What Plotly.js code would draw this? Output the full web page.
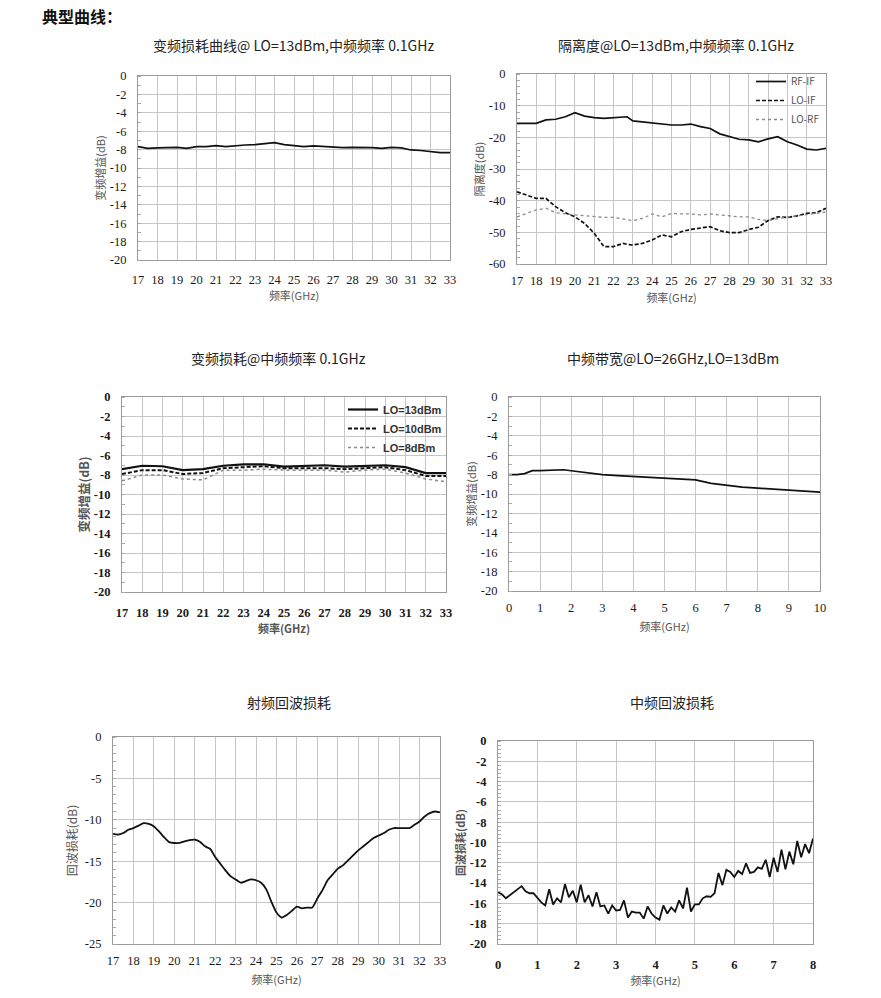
<!DOCTYPE html>
<html>
<head>
<meta charset="utf-8">
<script src="https://cdn.plot.ly/plotly-3.0.1.min.js"></script>
<style>html,body{margin:0;padding:0;background:#fff;}#chart{width:881px;height:998px;}</style>
</head>
<body>
<div id="chart"></div>
<script>
// ---------- DATA ----------
// Chart 1: 变频损耗曲线 @ LO=13dBm
const c1Freq = [17,17.5,18,18.5,19,19.5,20,20.5,21,21.5,22,22.5,23,23.5,24,24.5,25,25.5,26,26.5,27,27.5,28,28.5,29,29.5,30,30.5,31,31.5,32,32.5,33];
const c1Gain = [-7.67,-7.86,-7.82,-7.78,-7.75,-7.86,-7.67,-7.67,-7.57,-7.67,-7.57,-7.5,-7.46,-7.38,-7.24,-7.46,-7.6,-7.67,-7.6,-7.67,-7.67,-7.78,-7.75,-7.75,-7.78,-7.86,-7.75,-7.82,-8.04,-8.1,-8.2,-8.33,-8.33];

// Chart 2: 隔离度
const c2Freq = [17,17.5,18,18.5,19,19.5,20,20.5,21,21.5,22,22.5,22.7,23,23.5,24,24.5,25,25.5,26,26.5,27,27.5,28,28.5,29,29.5,30,30.5,31,31.5,32,32.5,33];
const c2RFIF = [-15.6,-15.6,-15.6,-14.5,-14.3,-13.5,-12.2,-13.3,-13.8,-14.0,-13.8,-13.7,-13.5,-14.8,-15.1,-15.4,-15.8,-16.1,-16.1,-15.8,-16.6,-17.2,-18.9,-19.8,-20.6,-20.8,-21.4,-20.5,-19.8,-21.4,-22.4,-23.7,-24.0,-23.5];
const c2LOIF = [-37.2,-38.2,-39.3,-39.3,-41.9,-43.8,-45.1,-47.2,-50.3,-54.5,-54.5,-53.5,-53.8,-54.0,-53.5,-52.4,-50.8,-51.4,-49.8,-49.1,-48.7,-48.2,-49.5,-50.1,-50.1,-49.1,-48.4,-46.3,-45.1,-45.3,-44.8,-44.0,-43.8,-42.4];
const c2LORF = [-45.1,-44.0,-42.9,-42.4,-43.8,-44.2,-44.5,-44.8,-45.1,-45.3,-45.3,-45.9,-46.0,-46.3,-45.6,-44.2,-45.1,-44.0,-44.2,-44.2,-44.5,-44.2,-44.5,-44.8,-45.1,-45.1,-45.9,-46.3,-45.6,-45.1,-44.8,-44.5,-44.0,-43.5];

// Chart 3: 变频损耗 @ 中频频率 0.1GHz, three LO powers
const c3Freq = [17,18,19,20,21,22,23,24,25,26,27,28,29,30,31,32,33];
const c3LO13 = [-7.4,-7.05,-7.1,-7.5,-7.4,-7.05,-6.9,-6.9,-7.15,-7.1,-7.0,-7.15,-7.1,-7.0,-7.2,-7.8,-7.8];
const c3LO10 = [-7.9,-7.5,-7.5,-7.9,-7.8,-7.3,-7.2,-7.1,-7.3,-7.3,-7.3,-7.4,-7.3,-7.2,-7.5,-8.1,-8.1];
const c3LO8  = [-8.6,-8.0,-8.0,-8.4,-8.5,-7.5,-7.5,-7.4,-7.5,-7.5,-7.5,-7.7,-7.5,-7.4,-7.8,-8.4,-8.7];

// Chart 4: 中频带宽 @ LO=26GHz
const c4Freq = [0,0.25,0.5,0.75,1,1.25,1.5,1.75,2,2.5,3,3.5,4,4.5,5,5.5,6,6.5,7,7.5,8,8.5,9,9.5,10];
const c4Gain = [-8.0,-8.0,-7.9,-7.6,-7.6,-7.55,-7.5,-7.5,-7.6,-7.8,-8.0,-8.1,-8.2,-8.3,-8.4,-8.45,-8.55,-8.9,-9.1,-9.3,-9.4,-9.5,-9.6,-9.75,-9.8];

// Chart 5: 射频回波损耗
const c5Freq = [17,17.25,17.5,17.75,18,18.25,18.5,18.75,19,19.25,19.5,19.75,20,20.25,20.5,20.75,21,21.25,21.5,21.75,22,22.25,22.5,22.75,23,23.25,23.5,23.75,24,24.25,24.5,24.75,25,25.25,25.5,25.75,26,26.25,26.5,26.75,27,27.25,27.5,27.75,28,28.25,28.5,28.75,29,29.25,29.5,29.75,30,30.25,30.5,30.75,31,31.25,31.5,31.75,32,32.25,32.5,32.75,33];
const c5RL = [-11.7,-11.8,-11.6,-11.2,-11.0,-10.7,-10.4,-10.5,-10.8,-11.4,-12.1,-12.7,-12.8,-12.8,-12.6,-12.45,-12.4,-12.65,-13.2,-13.5,-14.5,-15.3,-16.1,-16.8,-17.2,-17.6,-17.4,-17.2,-17.3,-17.6,-18.4,-19.9,-21.2,-21.8,-21.5,-21.0,-20.5,-20.7,-20.6,-20.6,-19.5,-18.5,-17.3,-16.6,-15.9,-15.5,-14.9,-14.3,-13.7,-13.2,-12.7,-12.2,-11.9,-11.6,-11.2,-11.0,-11.0,-11.0,-11.0,-10.6,-10.2,-9.6,-9.2,-9.0,-9.1];

// Chart 6: 中频回波损耗
const c6Freq = [0,0.1,0.2,0.3,0.4,0.5,0.6,0.7,0.8,0.9,1.0,1.1,1.2,1.3,1.4,1.5,1.6,1.7,1.8,1.9,2.0,2.1,2.2,2.3,2.4,2.5,2.6,2.7,2.8,2.9,3.0,3.1,3.2,3.3,3.4,3.5,3.6,3.7,3.8,3.9,4.0,4.1,4.2,4.3,4.4,4.5,4.6,4.7,4.8,4.9,5.0,5.1,5.2,5.3,5.4,5.5,5.6,5.7,5.8,5.9,6.0,6.1,6.2,6.3,6.4,6.5,6.6,6.7,6.8,6.9,7.0,7.1,7.2,7.3,7.4,7.5,7.6,7.7,7.8,7.9,8.0];
const c6RL = [-14.9,-15.1,-15.5,-15.2,-14.9,-14.6,-14.3,-14.8,-15.0,-15.0,-15.5,-15.9,-16.2,-14.6,-16.1,-15.5,-15.9,-14.1,-15.4,-14.75,-15.9,-14.15,-15.9,-15.2,-16.3,-14.9,-16.3,-16.2,-17.0,-16.2,-16.7,-16.65,-15.7,-17.4,-16.8,-16.9,-16.9,-17.5,-16.3,-17.0,-17.4,-17.6,-16.2,-17.0,-16.4,-16.8,-15.7,-16.5,-14.45,-16.8,-16.1,-16.1,-15.5,-15.3,-15.35,-15.0,-13.0,-14.2,-12.7,-12.9,-13.4,-12.8,-13.1,-12.05,-13.0,-12.9,-12.45,-12.6,-11.7,-13.4,-11.5,-12.9,-10.7,-12.65,-10.9,-12.15,-9.85,-11.45,-10.15,-11.05,-9.6];

// Tick labels
const xTicksRF = [17,18,19,20,21,22,23,24,25,26,27,28,29,30,31,32,33];
const xTickTextRF = ['17','18','19','20','21','22','23','24','25','26','27','28','29','30','31','32','33'];
const xTicksIF10 = [0,1,2,3,4,5,6,7,8,9,10];
const xTickTextIF10 = ['0','1','2','3','4','5','6','7','8','9','10'];
const xTicksIF8 = [0,1,2,3,4,5,6,7,8];
const xTickTextIF8 = ['0','1','2','3','4','5','6','7','8'];
const yTicks20 = [0,-2,-4,-6,-8,-10,-12,-14,-16,-18,-20];
const yTickText20 = ['0','-2','-4','-6','-8','-10','-12','-14','-16','-18','-20'];
const yTicks60 = [0,-10,-20,-30,-40,-50,-60];
const yTickText60 = ['0','-10','-20','-30','-40','-50','-60'];
const yTicks25 = [0,-5,-10,-15,-20,-25];
const yTickText25 = ['0','-5','-10','-15','-20','-25'];

// Text
const headerText = '典型曲线：';
const titles = ['变频损耗曲线@ LO=13dBm,中频频率 0.1GHz','隔离度@LO=13dBm,中频频率 0.1GHz','变频损耗@中频频率 0.1GHz','中频带宽@LO=26GHz,LO=13dBm','射频回波损耗','中频回波损耗'];
const xTitle = '频率(GHz)';
const yTitles = ['变频增益(dB)','隔离度(dB)','变频增益(dB)','变频增益(dB)','回波损耗(dB)','回波损耗(dB)'];
const legend2Names = ['RF-IF','LO-IF','LO-RF'];
const legend3Names = ['LO=13dBm','LO=10dBm','LO=8dBm'];

// ---------- LAYOUT HELPERS ----------
const W = 881, H = 998;
const CJK = '"Noto Sans CJK SC", "Noto Sans", sans-serif';
const SERIF = '"Liberation Serif", "Times New Roman", serif';
const px2x = p => p / W;
const px2y = p => 1 - p / H;

function xAxis(n, x0, x1, range, tv, tt, bold, standoff, titleStandoff, titleBold) {
  return {
    anchor: 'y' + (n === 1 ? '' : n),
    domain: [px2x(x0), px2x(x1)], range: range,
    tickmode: 'array', tickvals: tv, ticktext: tt,
    showgrid: true, gridcolor: '#c6c6c6', gridwidth: 1,
    showline: true, mirror: true, linecolor: '#9a9a9a', linewidth: 1,
    zeroline: false, ticks: '', fixedrange: true, automargin: false,
    ticklabelstandoff: standoff,
    tickfont: {family: SERIF, size: 12.5, color: '#1a1a1a', weight: bold ? 'bold' : 'normal'},
    title: {text: xTitle, standoff: titleStandoff, font: {family: CJK, size: 11, color: '#555', weight: titleBold ? 'bold' : 'normal'}}
  };
}
function yAxis(n, y0, y1, range, tv, tt, bold, minorDt, yt, titleStandoff, titleBold, titleSize) {
  return {
    anchor: 'x' + (n === 1 ? '' : n),
    domain: [px2y(y1), px2y(y0)], range: range,
    tickmode: 'array', tickvals: tv, ticktext: tt,
    showgrid: true, gridcolor: '#c6c6c6', gridwidth: 1,
    showline: true, mirror: true, linecolor: '#9a9a9a', linewidth: 1,
    zeroline: false, ticks: '', fixedrange: true, automargin: false,
    ticklabelstandoff: 8,
    minor: {tickmode: 'linear', tick0: 0, dtick: minorDt, ticks: 'inside', ticklen: 3, tickcolor: '#aaa', showgrid: false},
    tickfont: {family: SERIF, size: 12.5, color: '#1a1a1a', weight: bold ? 'bold' : 'normal'},
    title: {text: yt, standoff: titleStandoff, font: {family: CJK, size: titleSize, color: '#555', weight: titleBold ? 'bold' : 'normal'}}
  };
}

const layout = {
  width: W, height: H,
  margin: {l: 0, r: 0, t: 0, b: 0, pad: 0},
  paper_bgcolor: '#fff', plot_bgcolor: '#fff',
  showlegend: true,
  xaxis:  xAxis(1, 138, 450, [17, 33], xTicksRF, xTickTextRF, false, 8, 5, false),
  yaxis:  yAxis(1, 76, 260, [-20, 0], yTicks20, yTickText20, false, 1, yTitles[0], 1, false, 11),
  xaxis2: xAxis(2, 517, 826, [17, 33], xTicksRF, xTickTextRF, false, 5, 7, false),
  yaxis2: yAxis(2, 74, 264, [-60, 0], yTicks60, yTickText60, false, 2, yTitles[1], 1, false, 11),
  xaxis3: xAxis(3, 122, 446, [17, 33], xTicksRF, xTickTextRF, true, 9, 5, true),
  yaxis3: yAxis(3, 397, 592, [-20, 0], yTicks20, yTickText20, true, 1, yTitles[2], 1, true, 12.5),
  xaxis4: xAxis(4, 509, 820, [0, 10], xTicksIF10, xTickTextIF10, false, 5, 9, false),
  yaxis4: yAxis(4, 397, 591, [-20, 0], yTicks20, yTickText20, false, 1, yTitles[3], 1, false, 11),
  xaxis5: xAxis(5, 113, 440, [17, 33], xTicksRF, xTickTextRF, false, 5, 9, false),
  yaxis5: yAxis(5, 737, 944, [-25, 0], yTicks25, yTickText25, false, 1, yTitles[4], 4, false, 12),
  xaxis6: xAxis(6, 498, 813, [0, 8], xTicksIF8, xTickTextIF8, true, 9, 4, false),
  yaxis6: yAxis(6, 741, 944, [-20, 0], yTicks20, yTickText20, true, 0.4, yTitles[5], 1, true, 11),
  legend: {
    x: px2x(751), y: px2y(67), xanchor: 'left', yanchor: 'top',
    bgcolor: 'rgba(0,0,0,0)', borderwidth: 0, tracegroupgap: 0,
    font: {family: CJK, size: 10, color: '#555'}, itemwidth: 30
  },
  legend2: {
    x: px2x(343), y: px2y(395), xanchor: 'left', yanchor: 'top',
    bgcolor: 'rgba(0,0,0,0)', borderwidth: 0, tracegroupgap: 0,
    font: {family: '"Liberation Sans", Arial, sans-serif', size: 11, color: '#333', weight: 'bold'}, itemwidth: 30
  },
  annotations: [
    {text: headerText, x: px2x(40), y: px2y(16), xref: 'paper', yref: 'paper', xanchor: 'left', yanchor: 'middle', showarrow: false,
     font: {family: CJK, size: 16, color: '#111', weight: 'bold'}},
    {text: titles[0], x: px2x(293), y: px2y(45), xref: 'paper', yref: 'paper', xanchor: 'center', yanchor: 'middle', showarrow: false, font: {family: CJK, size: 14, color: '#222'}},
    {text: titles[1], x: px2x(676), y: px2y(45), xref: 'paper', yref: 'paper', xanchor: 'center', yanchor: 'middle', showarrow: false, font: {family: CJK, size: 14, color: '#222'}},
    {text: titles[2], x: px2x(278), y: px2y(358), xref: 'paper', yref: 'paper', xanchor: 'center', yanchor: 'middle', showarrow: false, font: {family: CJK, size: 14, color: '#222'}},
    {text: titles[3], x: px2x(673), y: px2y(358), xref: 'paper', yref: 'paper', xanchor: 'center', yanchor: 'middle', showarrow: false, font: {family: CJK, size: 14, color: '#222'}},
    {text: titles[4], x: px2x(289), y: px2y(702), xref: 'paper', yref: 'paper', xanchor: 'center', yanchor: 'middle', showarrow: false, font: {family: CJK, size: 14, color: '#222'}},
    {text: titles[5], x: px2x(672), y: px2y(702), xref: 'paper', yref: 'paper', xanchor: 'center', yanchor: 'middle', showarrow: false, font: {family: CJK, size: 14, color: '#222'}}
  ]
};

const blk = '#111';
const traces = [
  {x: c1Freq, y: c1Gain, xaxis: 'x', yaxis: 'y', mode: 'lines', line: {color: blk, width: 1.7}, showlegend: false, name: 'LO=13dBm'},

  {x: c2Freq, y: c2RFIF, xaxis: 'x2', yaxis: 'y2', mode: 'lines', line: {color: blk, width: 1.7}, name: legend2Names[0], legend: 'legend'},
  {x: c2Freq, y: c2LOIF, xaxis: 'x2', yaxis: 'y2', mode: 'lines', line: {color: blk, width: 1.7, dash: '4px,2px'}, name: legend2Names[1], legend: 'legend'},
  {x: c2Freq, y: c2LORF, xaxis: 'x2', yaxis: 'y2', mode: 'lines', line: {color: '#8a8a8a', width: 1.3, dash: 'dot'}, name: legend2Names[2], legend: 'legend'},

  {x: c3Freq, y: c3LO13, xaxis: 'x3', yaxis: 'y3', mode: 'lines', line: {color: blk, width: 2.2}, name: legend3Names[0], legend: 'legend2'},
  {x: c3Freq, y: c3LO10, xaxis: 'x3', yaxis: 'y3', mode: 'lines', line: {color: blk, width: 2, dash: '4px,2px'}, name: legend3Names[1], legend: 'legend2'},
  {x: c3Freq, y: c3LO8,  xaxis: 'x3', yaxis: 'y3', mode: 'lines', line: {color: '#8a8a8a', width: 1.5, dash: 'dot'}, name: legend3Names[2], legend: 'legend2'},

  {x: c4Freq, y: c4Gain, xaxis: 'x4', yaxis: 'y4', mode: 'lines', line: {color: blk, width: 1.7}, showlegend: false, name: 'IF'},
  {x: c5Freq, y: c5RL, xaxis: 'x5', yaxis: 'y5', mode: 'lines', line: {color: blk, width: 1.8, shape: 'spline', smoothing: 0.6}, showlegend: false, name: 'RF RL'},
  {x: c6Freq, y: c6RL, xaxis: 'x6', yaxis: 'y6', mode: 'lines', line: {color: blk, width: 1.8}, showlegend: false, name: 'IF RL'}
];

Plotly.newPlot('chart', traces, layout, {staticPlot: true, displayModeBar: false});
</script>
</body>
</html>
